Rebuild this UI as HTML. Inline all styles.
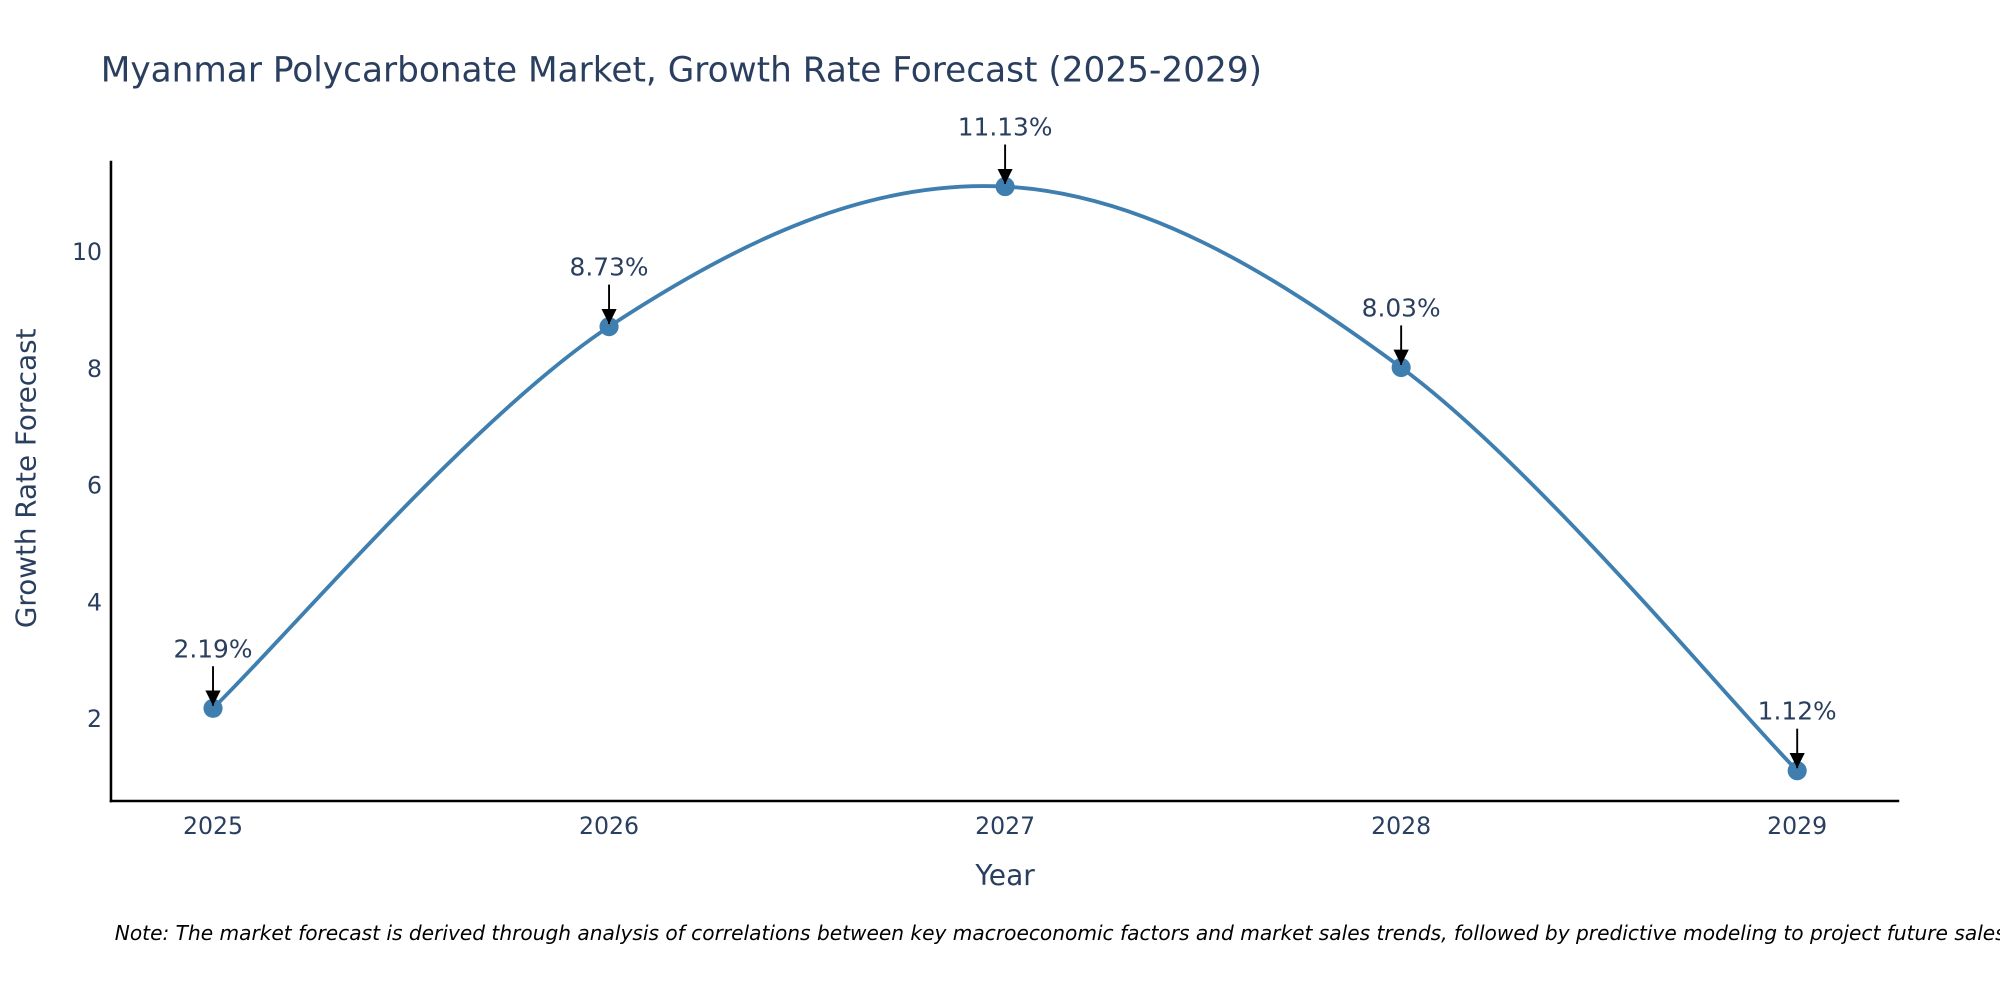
<!DOCTYPE html>
<html><head><meta charset="utf-8"><style>
html,body{margin:0;padding:0;background:#fff;width:2000px;height:1000px;overflow:hidden}
svg{display:block}
text{font-family:"DejaVu Sans","Liberation Sans",sans-serif;fill:#2a3f5f}
</style></head><body>
<svg id="chart" width="2000" height="1000" viewBox="0 0 1568 784" xmlns="http://www.w3.org/2000/svg">
<defs><marker id="ah" markerWidth="12" markerHeight="12" refX="10" refY="5" orient="auto" markerUnits="userSpaceOnUse" viewBox="0 0 10 10"><path d="M0,0 L10,5 L0,10 z" fill="#000"/></marker></defs>
<text x="79" y="64" font-size="26.9">Myanmar Polycarbonate Market, Growth Rate Forecast (2025-2029)</text>
<g id="plot"></g>
<line x1="87" y1="126" x2="87" y2="629" stroke="#000" stroke-width="2"/>
<line x1="86" y1="628" x2="1489" y2="628" stroke="#000" stroke-width="2"/>
<text transform="translate(28,375) rotate(-90)" text-anchor="middle" font-size="21.8">Growth Rate Forecast</text>
<text x="788" y="694" text-anchor="middle" font-size="22">Year</text>
<text x="90" y="737" font-size="15.8" font-style="italic" style="fill:#000">Note: The market forecast is derived through analysis of correlations between key macroeconomic factors and market sales trends, followed by predictive modeling to project future sales.</text>
</svg>
<script>
const years = ["2025","2026","2027","2028","2029"];
const values = [2.19, 8.73, 11.13, 8.03, 1.12];
const labels = ["2.19%","8.73%","11.13%","8.03%","1.12%"];
const yTicks = [2,4,6,8,10];

const NS="http://www.w3.org/2000/svg";
const g=document.getElementById('plot');
function xs(i){return 167+i*(1409-167)/(years.length-1);}
function ys(v){return 564-(v-2)*(564-198)/8;}
function mk(tag,attrs){const e=document.createElementNS(NS,tag);for(const k in attrs)e.setAttribute(k,attrs[k]);g.appendChild(e);return e;}

yTicks.forEach(t=>{
  const e=mk('text',{x:80,y:ys(t)+6,'text-anchor':'end','font-size':18.5});
  e.textContent=t;
  
  
});
years.forEach((y,i)=>{
  const e=mk('text',{x:xs(i),y:654,'text-anchor':'middle','font-size':18.5});
  e.textContent=y;
  
  
});

const pts=values.map((v,i)=>[xs(i),ys(v)]);
let d='M'+pts[0][0]+','+pts[0][1];
const s=0.17;
for(let i=0;i<pts.length-1;i++){
  const p0=pts[Math.max(0,i-1)],p1=pts[i],p2=pts[i+1],p3=pts[Math.min(pts.length-1,i+2)];
  const c1=[p1[0]+(p2[0]-p0[0])*s,p1[1]+(p2[1]-p0[1])*s];
  const c2=[p2[0]-(p3[0]-p1[0])*s,p2[1]-(p3[1]-p1[1])*s];
  d+=` C${c1[0]},${c1[1]} ${c2[0]},${c2[1]} ${p2[0]},${p2[1]}`;
}
const line=mk('path',{d:d,fill:'none',stroke:'#3f7fb0','stroke-width':3});



pts.forEach((p,i)=>{
  const c=mk('circle',{cx:p[0],cy:p[1],r:7.5,fill:'#3f7fb0'});
  
  
  const a=mk('line',{x1:p[0],y1:p[1]-33,x2:p[0],y2:p[1]-2,stroke:'#000','stroke-width':1.5,'marker-end':'url(#ah)'});
  
  
  const t=mk('text',{x:p[0],y:p[1]-40,'text-anchor':'middle','font-size':19.5});
  t.textContent=labels[i];
  
  
});
</script>
</body></html>
